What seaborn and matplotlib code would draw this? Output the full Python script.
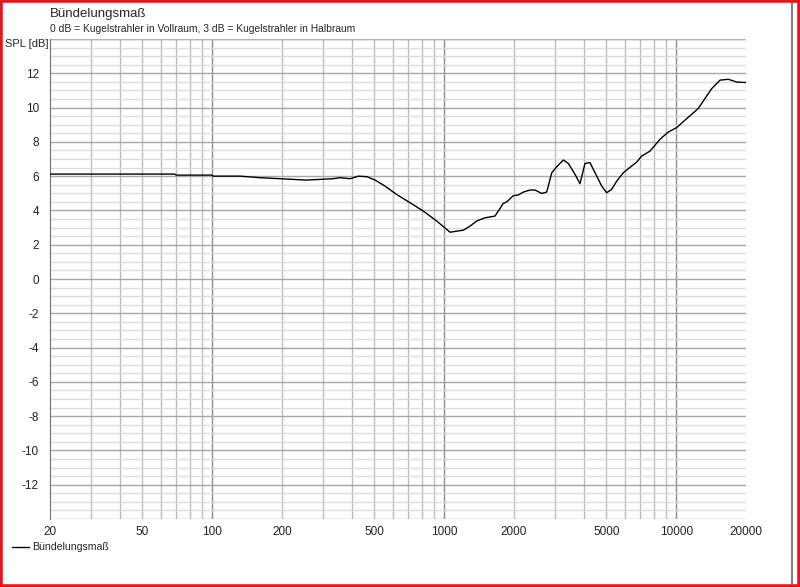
import numpy as np
import pandas as pd
import matplotlib.pyplot as plt
import matplotlib.ticker as mticker
from matplotlib.patches import Rectangle
from matplotlib.lines import Line2D
import seaborn as sns

# Values (frequency in Hz, directivity index in dB)
freq = [20, 40, 69, 70, 100, 101, 132, 161, 196, 255, 332, 356, 393, 427, 464, 504,
        556, 624, 713, 813, 929, 1060, 1210, 1292, 1380, 1500, 1656, 1798, 1859,
        1986, 2088, 2193, 2344, 2465, 2632, 2766, 2910, 3056, 3266, 3430, 3666,
        3849, 4046, 4252, 4470, 4776, 5016, 5272, 5542, 5920, 6430, 6760, 7100,
        7710, 8520, 9240, 10040, 11090, 12440, 13300, 14220, 15460, 16780, 18230, 20000]
spl = [6.12, 6.12, 6.12, 6.06, 6.06, 6.0, 6.0, 5.91, 5.85, 5.77, 5.85, 5.91, 5.85,
       6.0, 5.97, 5.77, 5.42, 4.93, 4.45, 3.96, 3.38, 2.73, 2.85, 3.08, 3.38, 3.57,
       3.67, 4.41, 4.49, 4.86, 4.9, 5.07, 5.19, 5.19, 4.99, 5.07, 6.2, 6.55, 6.94,
       6.74, 6.1, 5.56, 6.74, 6.79, 6.2, 5.42, 5.03, 5.23, 5.71, 6.2, 6.59, 6.82,
       7.17, 7.46, 8.15, 8.57, 8.83, 9.35, 9.94, 10.52, 11.1, 11.6, 11.65, 11.49, 11.46]

x_labels = [20, 50, 100, 200, 500, 1000, 2000, 5000, 10000, 20000]
y_labels = list(range(-12, 13, 2))

title = "Bündelungsmaß"
subtitle = "0 dB = Kugelstrahler in Vollraum, 3 dB = Kugelstrahler in Halbraum"
series_name = "Bündelungsmaß"

sns.set_style("white")
plt.rcParams['font.family'] = ['Liberation Sans', 'DejaVu Sans']

df = pd.DataFrame({"freq": freq, "spl": spl})

fig = plt.figure(figsize=(8, 5.87), dpi=100)
ax = fig.add_axes([50 / 800, 1 - 519 / 587, 696 / 800, 480 / 587])

# grid: minor lines first, then major
for f in [m * 10 ** e for e in range(1, 5) for m in range(2, 10)]:
    if 20 < f < 20000:
        ax.axvline(f, color="#bcbcbc", lw=1, zorder=1)
for f in [100, 1000, 10000]:
    ax.axvline(f, color="#8c8c8c", lw=1, zorder=1)
for v in np.arange(-14, 14.01, 0.5):
    major = abs(v % 2) < 1e-9
    ax.axhline(v, color="#a8a8a8" if major else "#dcdcdc", lw=1, zorder=1)
ax.axhline(14, color="#b4b4b4", lw=1, zorder=1)

sns.lineplot(data=df, x="freq", y="spl", ax=ax, color="black", lw=1, zorder=3,
             legend=False)

ax.set_xscale("log")
ax.set_xlim(20, 20000)
ax.set_ylim(-14, 14)
ax.xaxis.set_major_locator(mticker.FixedLocator(x_labels))
ax.xaxis.set_major_formatter(mticker.FixedFormatter([str(v) for v in x_labels]))
ax.xaxis.set_minor_locator(mticker.NullLocator())
ax.set_yticks(y_labels)
ax.set_yticklabels([str(v) for v in y_labels])
ax.set_xlabel("")
ax.set_ylabel("")
ax.tick_params(axis="both", labelsize=8.5, colors="#222222", length=5, width=1,
               direction="out", pad=3)
ax.tick_params(axis="x", length=3, pad=2)
for s in ["top", "right", "bottom"]:
    ax.spines[s].set_visible(False)
ax.spines["left"].set_color("#707070")
ax.patch.set_alpha(0)

fig.text(50 / 800, 1 - 14 / 587, title, fontsize=9.5, va="center", ha="left")
fig.text(50 / 800, 1 - 29 / 587, subtitle, fontsize=7.4, va="center", ha="left")
fig.text(5 / 800, 1 - 44 / 587, "SPL [dB]", fontsize=8, va="center", ha="left")

# legend
fig.add_artist(Line2D([12 / 800, 29 / 800], [1 - 547 / 587] * 2, color="black", lw=1))
fig.text(32 / 800, 1 - 547 / 587, series_name, fontsize=7.6, va="center", ha="left")

# window frame
fig.add_artist(Rectangle((0, 0), 1, 1, transform=fig.transFigure, fill=False,
                         edgecolor="#e8141b", lw=4, zorder=10))
fig.add_artist(Line2D([792 / 800] * 2, [3 / 587, 1 - 3 / 587], color="#808080", lw=1.5))

fig.savefig("out.png", dpi=100)
